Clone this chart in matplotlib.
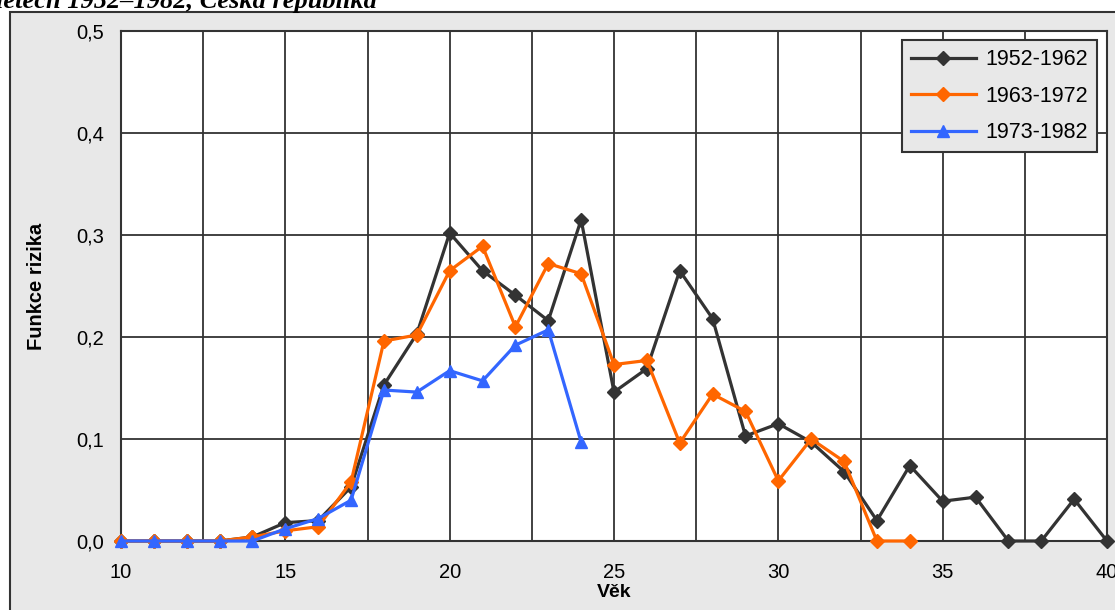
import matplotlib.pyplot as plt
from matplotlib.patches import Rectangle
from matplotlib.ticker import FuncFormatter, MultipleLocator

plt.rcParams['font.family'] = ['Liberation Sans', 'DejaVu Sans']

ages_a = list(range(10, 41))
rate_a = [0, 0, 0, 0, 0.004, 0.018, 0.02, 0.053, 0.153, 0.203, 0.302, 0.265, 0.241,
          0.216, 0.315, 0.146, 0.169, 0.265, 0.218, 0.103, 0.115, 0.097, 0.068, 0.02,
          0.074, 0.039, 0.043, 0, 0, 0.041, 0]

ages_b = list(range(10, 35))
rate_b = [0, 0, 0, 0, 0.004, 0.01, 0.014, 0.058, 0.196, 0.202, 0.265, 0.289, 0.21,
          0.272, 0.262, 0.173, 0.177, 0.096, 0.144, 0.127, 0.059, 0.1, 0.078, 0, 0]

ages_c = list(range(10, 25))
rate_c = [0, 0, 0, 0, 0, 0.012, 0.022, 0.04, 0.148, 0.146, 0.167, 0.157, 0.192, 0.207, 0.097]

labels = ["1952-1962", "1963-1972", "1973-1982"]

fig = plt.figure(figsize=(11.15, 6.1), dpi=100)
fig.patch.set_facecolor("white")

# outer chart frame (gray area)
frame = Rectangle((10 / 1115, -0.05), 1.2, 1 - 12 / 610 + 0.05, transform=fig.transFigure,
                  facecolor="#e8e8e8", edgecolor="#333333", linewidth=1.5, zorder=-10)
fig.patches.append(frame)

# title is cut off at the top in the original
fig.text(-0.004, 1 - 8 / 610, "letech 1952\u20131982, Česká republika", family="Liberation Serif",
         fontsize=19, fontweight="bold", fontstyle="italic", ha="left", va="baseline")

ax = fig.add_axes([121 / 1115, 1 - 541 / 610, 986 / 1115, 510 / 610])
ax.set_facecolor("white")

ax.plot(ages_a, rate_a, color="#333333", lw=2.3, marker="D", ms=7.5, label=labels[0], clip_on=False, zorder=3)
ax.plot(ages_b, rate_b, color="#ff6600", lw=2.3, marker="D", ms=7.5, label=labels[1], clip_on=False, zorder=4)
ax.plot(ages_c, rate_c, color="#3366ff", lw=2.3, marker="^", ms=9, label=labels[2], clip_on=False, zorder=5)

ax.set_xlim(10, 40)
ax.set_ylim(0, 0.5)
ax.xaxis.set_major_locator(MultipleLocator(5))
ax.xaxis.set_minor_locator(MultipleLocator(2.5))
ax.yaxis.set_major_locator(MultipleLocator(0.1))
ax.yaxis.set_major_formatter(FuncFormatter(lambda v, p: f"{v:.1f}".replace(".", ",")))
ax.grid(True, which="both", axis="x", color="#333333", lw=1.3)
ax.grid(True, which="major", axis="y", color="#333333", lw=1.3)
ax.set_axisbelow(True)
ax.tick_params(which="both", length=0, labelsize=14.5)
ax.tick_params(axis="y", pad=12)
ax.tick_params(axis="x", pad=16)
for s in ax.spines.values():
    s.set_color("#333333")
    s.set_linewidth(1.5)

ax.set_xlabel("Věk", fontsize=14, fontweight="bold", labelpad=1)
ax.set_ylabel("Funkce rizika", fontsize=14.5, fontweight="bold", labelpad=22)

leg = ax.legend(loc="upper right", bbox_to_anchor=(0.99, 0.982), borderaxespad=0,
                fontsize=15.5, handlelength=3.0, handletextpad=0.45, labelspacing=0.72,
                borderpad=0.42, fancybox=False, framealpha=1)
leg.get_frame().set_facecolor("#e8e8e8")
leg.get_frame().set_edgecolor("#333333")
leg.get_frame().set_linewidth(1.5)

fig.savefig("out.png", dpi=100)
